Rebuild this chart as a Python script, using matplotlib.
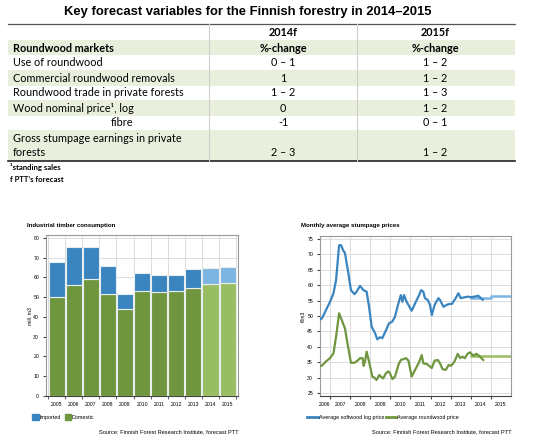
import matplotlib
matplotlib.use("Agg")
import matplotlib.pyplot as plt
from matplotlib.patches import Rectangle, Patch
from matplotlib.lines import Line2D

W, H = 539, 447

# table data
col_headers = ["2014f", "2015f"]
row_labels = ["Use of roundwood", "Commercial roundwood removals",
              "Roundwood trade in private forests", "Wood nominal price\u00b9, log",
              "fibre", "Gross stumpage earnings in private\nforests"]
vals_2014 = ["0 \u2013 1", "1", "1 \u2013 2", "0", "-1", "2 \u2013 3"]
vals_2015 = ["1 \u2013 2", "1 \u2013 2", "1 \u2013 3", "1 \u2013 2", "0 \u2013 1", "1 \u2013 2"]

# bar chart data
years = ["2005", "2006", "2007", "2008", "2009", "2010", "2011", "2012", "2013", "2014", "2015"]
domestic = [50, 56, 59, 51.5, 44, 53, 52.5, 53, 54.5, 56.5, 57]
total = [68, 75.5, 75.5, 66, 51.5, 62.5, 61.5, 61.5, 64.5, 65, 65.5]
imported = [t - d for t, d in zip(total, domestic)]
forecast = [False] * 9 + [True, True]

# stumpage prices (decimal year, EUR/m3)
log_t = [2006.55, 2006.62, 2006.84, 2007.0, 2007.17, 2007.3, 2007.45, 2007.55, 2007.66, 2007.74,
         2007.91, 2008.04, 2008.21, 2008.32, 2008.49, 2008.66, 2008.82, 2008.94, 2009.07, 2009.24,
         2009.35, 2009.48, 2009.6, 2009.79, 2009.93, 2010.1, 2010.23, 2010.4, 2010.52, 2010.6,
         2010.68, 2010.81, 2011.06, 2011.23, 2011.43, 2011.53, 2011.64, 2011.72, 2011.86, 2011.97,
         2012.06, 2012.2, 2012.39, 2012.47, 2012.64, 2012.8, 2012.93, 2013.05, 2013.25, 2013.38,
         2013.5, 2013.7, 2013.87, 2014.01, 2014.2, 2014.37, 2014.5, 2014.6]
log_p = [49.0, 49.5, 52.5, 54.6, 57.4, 61.7, 73.0, 73.0, 71.2, 70.5,
         63.9, 58.4, 57.1, 57.9, 59.8, 58.4, 57.9, 53.0, 46.5, 44.4,
         42.4, 43.1, 42.8, 45.5, 47.6, 48.2, 49.8, 54.1, 56.8, 54.6,
         56.8, 54.6, 51.7, 54.1, 56.8, 58.4, 57.9, 55.8, 55.2, 53.6,
         50.3, 53.6, 55.8, 55.2, 53.0, 53.6, 53.9, 53.9, 55.8, 57.4,
         55.8, 56.1, 56.3, 56.1, 56.3, 56.6, 55.8, 55.3]
rw_t = [2006.55, 2006.62, 2006.79, 2007.0, 2007.17, 2007.3, 2007.45, 2007.58, 2007.74, 2007.88,
        2008.04, 2008.21, 2008.37, 2008.49, 2008.62, 2008.67, 2008.74, 2008.82, 2008.9, 2009.04,
        2009.1, 2009.2, 2009.31, 2009.45, 2009.53, 2009.64, 2009.78, 2009.9, 2009.98, 2010.1,
        2010.23, 2010.4, 2010.52, 2010.65, 2010.78, 2010.9, 2011.06, 2011.23, 2011.43, 2011.56,
        2011.64, 2011.81, 2011.97, 2012.06, 2012.2, 2012.36, 2012.47, 2012.6, 2012.76, 2012.9,
        2013.02, 2013.19, 2013.35, 2013.47, 2013.58, 2013.7, 2013.84, 2013.96, 2014.12, 2014.28,
        2014.45, 2014.62]
rw_p = [33.8, 34.0, 35.2, 36.3, 37.9, 43.3, 50.9, 48.7, 46.0, 40.6,
        34.8, 34.8, 35.5, 36.3, 36.3, 33.8, 35.2, 38.4, 36.3, 32.2,
        30.3, 30.0, 29.2, 30.8, 30.3, 29.7, 31.4, 32.0, 31.4, 29.5,
        30.3, 34.1, 35.7, 36.0, 36.3, 35.5, 30.3, 32.5, 35.0, 37.3,
        34.6, 34.4, 33.6, 33.1, 35.5, 35.7, 34.6, 32.7, 32.5, 34.1,
        33.8, 35.2, 37.7, 36.3, 36.8, 36.3, 37.7, 38.2, 37.1, 37.7,
        36.8, 35.7]
log_fc_t = [2014.0, 2015.0, 2015.0, 2016.0]
log_fc_p = [55.9, 55.9, 56.6, 56.6]
rw_fc_t = [2014.0, 2016.0]
rw_fc_p = [37.0, 37.0]

BLUE = "#3a85c0"
GREEN = "#6f963f"
LBLUE = "#7db5e2"
LGREEN = "#98bd62"
GRID = "#dcdcdc"
SPINE = "#9a9a9a"

plt.rcParams['font.family'] = ['Liberation Sans', 'DejaVu Sans']

fig = plt.figure(figsize=(W / 100, H / 100), dpi=100)


def box(l, t, r, b):
    return [l / W, 1 - b / H, (r - l) / W, (b - t) / H]


# overlay in pixel coordinates for the table
ov = fig.add_axes([0, 0, 1, 1])
ov.set_xlim(0, W)
ov.set_ylim(H, 0)
ov.axis('off')

ov.text(248, 12, "Key forecast variables for the Finnish forestry in 2014\u20132015",
        ha='center', va='center', fontsize=9.4, fontweight='bold')

band = "#e8efdc"
for top, bot in [(39.5, 55), (70, 85.5), (100, 115.5), (130, 161)]:
    ov.add_patch(Rectangle((8, top), 507, bot - top, facecolor=band, edgecolor='none'))
ov.plot([8, 515], [24.3, 24.3], color="#555555", lw=0.9)
ov.plot([8, 515], [161, 161], color="#222222", lw=1.2)
for x in (209, 357):
    ov.plot([x, x], [24.3, 161], color="#cfcfcf", lw=0.8)

tf = ['Lato', 'DejaVu Sans']
fs = 7.8
c1, c2 = 283, 435
ov.text(c1, 33, col_headers[0], ha='center', va='center', fontsize=fs, fontweight='bold', family=tf)
ov.text(c2, 33, col_headers[1], ha='center', va='center', fontsize=fs, fontweight='bold', family=tf)
ov.text(13, 48, "Roundwood markets", ha='left', va='center', fontsize=fs, fontweight='bold', family=tf)
ov.text(c1, 48, "%-change", ha='center', va='center', fontsize=fs, fontweight='bold', family=tf)
ov.text(c2, 48, "%-change", ha='center', va='center', fontsize=fs, fontweight='bold', family=tf)
row_y = [63, 78, 93, 108, 123, 153]
for i, (lab, a, b) in enumerate(zip(row_labels, vals_2014, vals_2015)):
    y = row_y[i]
    if lab == "fibre":
        ov.text(111, y, lab, ha='left', va='center', fontsize=fs, family=tf)
    elif "\n" in lab:
        l1, l2 = lab.split("\n")
        ov.text(13, 138, l1, ha='left', va='center', fontsize=fs, family=tf)
        ov.text(13, 153, l2, ha='left', va='center', fontsize=fs, family=tf)
    else:
        ov.text(13, y, lab, ha='left', va='center', fontsize=fs, family=tf)
    ov.text(c1, y, a, ha='center', va='center', fontsize=fs, family=tf)
    ov.text(c2, y, b, ha='center', va='center', fontsize=fs, family=tf)
ov.text(10, 167, "\u00b9standing sales", ha='left', va='center', fontsize=5.6, fontweight='bold', family=tf)
ov.text(10, 179, "f PTT\u2019s forecast", ha='left', va='center', fontsize=5.6, fontweight='bold', family=tf)

TK = 3.7
SRC = 4.1

# ---- left: industrial timber consumption
ax1 = fig.add_axes(box(46, 235, 238, 396))
x = list(range(len(years)))
dom_c = [LGREEN if f else GREEN for f in forecast]
imp_c = [LBLUE if f else BLUE for f in forecast]
ax1.bar(x, domestic, width=0.94, color=dom_c, edgecolor="#e8eef0", linewidth=0.8, zorder=3)
ax1.bar(x, imported, bottom=domestic, width=0.94, color=imp_c, edgecolor="#e8eef0", linewidth=0.8, zorder=3)
ax1.set_xlim(-0.62, 10.61)
ax1.set_ylim(0, 81.5)
ax1.set_yticks(range(0, 81, 10))
ax1.set_xticks(x)
ax1.set_xticklabels(years)
ax1.set_xticks([i - 0.5 for i in range(12)], minor=True)
ax1.grid(True, axis='y', color=GRID, lw=0.7, zorder=0)
ax1.grid(True, axis='x', which='minor', color=GRID, lw=0.7, zorder=0)
ax1.tick_params(axis='x', which='major', length=0, labelsize=TK, pad=4.5)
ax1.tick_params(axis='x', which='minor', length=2.5, color='#444444')
ax1.tick_params(axis='y', length=2.5, labelsize=TK, pad=2.5, color='#444444')
for s in ax1.spines.values():
    s.set_color(SPINE)
    s.set_linewidth(0.8)
ax1.spines['bottom'].set_color('#444444')
fig.text(30 / W, 1 - 316 / H, "mill. m3", rotation=90, ha='center', va='center', fontsize=TK)
fig.text(27 / W, 1 - 226 / H, "Industrial timber consumption",
         fontsize=4.4, fontweight='bold', ha='left', va='center')
ax1.legend(handles=[Patch(color=BLUE, label="Imported"), Patch(color=GREEN, label="Domestic")],
           loc='center left', bbox_to_anchor=(30 / W, 1 - 417 / H), bbox_transform=fig.transFigure,
           ncol=2, frameon=False, fontsize=3.9, handlelength=1.2, handleheight=1.2,
           handletextpad=0.1, columnspacing=0.8, borderaxespad=0)
fig.text(239 / W, 1 - 432 / H, "Source: Finnish Forest Research Institute, forecast PTT",
         ha='right', va='center', fontsize=SRC)

# ---- right: monthly average stumpage prices
ax2 = fig.add_axes(box(320, 236, 511, 396))
ax2.plot(log_fc_t, log_fc_p, color=LBLUE, lw=1.8, zorder=3)
ax2.plot(rw_fc_t, rw_fc_p, color=LGREEN, lw=1.8, zorder=3)
ax2.plot(log_t, log_p, color=BLUE, lw=1.6, zorder=4)
ax2.plot(rw_t, rw_p, color=GREEN, lw=1.6, zorder=4)
ax2.set_xlim(2006.5, 2016.0)
ax2.set_ylim(24, 76)
ax2.set_yticks(range(25, 76, 5))
ax2.set_xticks(range(2007, 2016))
ax2.set_xticklabels([])
ax2.set_xticks([2006.72] + [y + 0.5 for y in range(2007, 2016)], minor=True)
ax2.set_xticklabels([str(y) for y in range(2006, 2016)], minor=True)
ax2.grid(True, which='major', color=GRID, lw=0.7, zorder=0)
ax2.tick_params(axis='x', which='major', length=2.5, color='#444444')
ax2.tick_params(axis='x', which='minor', length=0, labelsize=TK, pad=4.5)
ax2.tick_params(axis='y', length=2.5, labelsize=TK, pad=2.5, color='#444444')
for s in ax2.spines.values():
    s.set_color(SPINE)
    s.set_linewidth(0.8)
ax2.spines['bottom'].set_color('#444444')
fig.text(303 / W, 1 - 316 / H, "\u20ac/m3", rotation=90, ha='center', va='center', fontsize=TK)
fig.text(301 / W, 1 - 226 / H, "Monthly average stumpage prices",
         fontsize=4.4, fontweight='bold', ha='left', va='center')
ax2.legend(handles=[Line2D([], [], color=BLUE, lw=2, label="Average softwood log price"),
                    Line2D([], [], color=GREEN, lw=2, label="Average roundwood price")],
           loc='center left', bbox_to_anchor=(305 / W, 1 - 417 / H), bbox_transform=fig.transFigure,
           ncol=2, frameon=False, fontsize=3.9, handlelength=2.0,
           handletextpad=0.1, columnspacing=0.3, borderaxespad=0)
fig.text(512 / W, 1 - 432 / H, "Source: Finnish Forest Research Institute, forecast PTT",
         ha='right', va='center', fontsize=SRC)

fig.savefig("out.png", dpi=100)
